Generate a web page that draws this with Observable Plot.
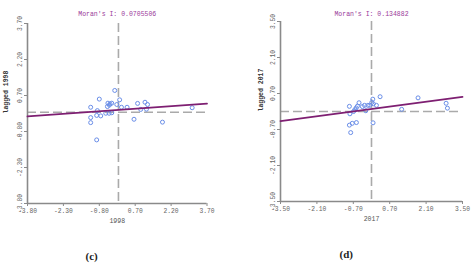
<!DOCTYPE html>
<html>
<head>
<meta charset="utf-8">
<script src="https://cdn.jsdelivr.net/npm/d3@7"></script>
<script src="https://cdn.jsdelivr.net/npm/@observablehq/plot@0.6"></script>
<style>
  html, body { margin: 0; padding: 0; background: #fff; }
  #wrap { display: flex; width: 474px; height: 266px; }
</style>
</head>
<body>
<div id="wrap"></div>
<script>
// Moran scatterplots: standardized value vs. spatially lagged value

// 1998 panel
const x1998 = [-0.155, -0.80, 0.05, -1.16, -0.44, -0.35, -0.28, -0.38, -0.07, 0.126, 0.36, 0.80, 1.11, 1.215,
  0.93, 1.17, 3.08, -1.16, -1.16, -0.91, -0.74, -0.53, -0.39, -0.28, 0.65, 1.84, -0.91, -0.88, -0.46];
const lag1998 = [0.91, 0.55, 0.52, 0.21, 0.38, 0.35, 0.38, 0.30, 0.325, 0.21, 0.21, 0.37, 0.42, 0.325,
  0.12, 0.13, 0.19, -0.22, -0.43, -0.13, -0.15, -0.04, -0.04, -0.02, -0.29, -0.41, -1.15, 0.07, 0.24];
const moran1998 = 0.0705506;
const ticks1998 = [-3.8, -2.3, -0.8, 0.7, 2.2, 3.7];

// 2017 panel
const x2017 = [0.05, 0.33, -0.48, -0.85, -0.35, -0.27, -0.14, -0.07, 0.01, 0.07, 0.19, -0.59, -0.64, -0.69,
  -0.83, -0.22, 1.79, 1.16, 2.87, 2.92, -0.85, -0.74, -0.58, 0.06, -0.80, -0.54];
const lag2017 = [0.48, 0.575, 0.34, 0.20, 0.19, 0.24, 0.24, 0.24, 0.35, 0.30, 0.24, 0.14, 0.07, 0.0,
  -0.09, 0.03, 0.53, 0.085, 0.32, 0.13, -0.53, -0.46, -0.43, -0.44, -0.82, 0.21];
const moran2017 = 0.134882;
const ticks2017 = [-3.5, -2.1, -0.7, 0.7, 2.1, 3.5];

const fmt = d => d.toFixed(2);
const axisGray = "#8a8a8a";

function moranPlot({xs, lags, moran, ticks, year, tag, margins, titleDy, yLabelDx, tagDx}) {
  const pts = xs.map((x, i) => ({x, y: lags[i]}));
  const lo = ticks[0], hi = ticks[ticks.length - 1];
  const intercept = 0.1;
  const fit = [lo, hi].map(x => ({x, y: intercept + moran * x}));
  return Plot.plot({
    width: 237,
    height: 266,
    ...margins,
    x: {domain: [lo, hi]},
    y: {domain: [lo, hi]},
    style: {fontFamily: "Liberation Mono, DejaVu Sans Mono, monospace", fontSize: "6.3px", color: "#666", background: "#fff", overflow: "visible"},
    marks: [
      // mean reference lines
      Plot.ruleX([0], {stroke: "#aaa", strokeWidth: 1.6, strokeDasharray: "9,4"}),
      Plot.ruleY([0], {stroke: "#aaa", strokeWidth: 1.6, strokeDasharray: "9,4"}),
      // axis lines
      Plot.ruleX([lo], {stroke: axisGray, strokeWidth: 1.6}),
      Plot.ruleY([lo], {stroke: axisGray, strokeWidth: 1.6}),
      Plot.axisX({ticks, tickFormat: fmt, tickSize: 3, tickPadding: 2, stroke: axisGray, label: null}),
      Plot.axisY({ticks, tickFormat: fmt, tickSize: 3, tickPadding: 3, tickRotate: -90, stroke: axisGray, label: null}),
      Plot.dot(pts, {x: "x", y: "y", r: 2, stroke: "#6a8ee8", strokeWidth: 1, fill: "none"}),
      Plot.line(fit, {x: "x", y: "y", stroke: "#7e1f72", strokeWidth: 1.8}),
      Plot.text([`Moran's I: ${moran}`], {frameAnchor: "top", dy: titleDy, fill: "#9a3a9a", fontSize: 6.5}),
      Plot.text([year], {frameAnchor: "bottom", dy: 19, fill: "#555", fontSize: 6.5}),
      Plot.text([`lagged ${year}`], {frameAnchor: "left", dx: yLabelDx, rotate: -90, fill: "#333", fontSize: 6.5, fontWeight: "bold"}),
      Plot.text([tag], {frameAnchor: "bottom-left", dx: tagDx, dy: 56, fill: "#222", fontSize: 11, fontWeight: "bold", fontFamily: "Liberation Serif, serif"})
    ]
  });
}

const wrap = document.getElementById("wrap");
wrap.append(moranPlot({
  xs: x1998, lags: lag1998, moran: moran1998, ticks: ticks1998, year: "1998", tag: "(c)",
  margins: {marginLeft: 27, marginRight: 30.5, marginTop: 23, marginBottom: 63},
  titleDy: -12, yLabelDx: -22, tagDx: 58
}));
wrap.append(moranPlot({
  xs: x2017, lags: lag2017, moran: moran2017, ticks: ticks2017, year: "2017", tag: "(d)",
  margins: {marginLeft: 43, marginRight: 12, marginTop: 21, marginBottom: 65},
  titleDy: -10, yLabelDx: -20, tagDx: 59
}));
</script>
</body>
</html>
